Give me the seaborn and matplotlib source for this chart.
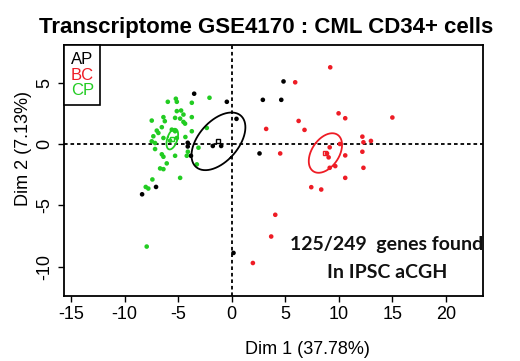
import numpy as np
import pandas as pd
import matplotlib
matplotlib.use("Agg")
import matplotlib.pyplot as plt
from matplotlib.lines import Line2D
import seaborn as sns

# ---------------- data ----------------
groups = ["AP", "BC", "CP"]
group_colors = ["#000000", "#EE1C25", "#22CC22"]

ap_x = [-3.5, -0.45, 0.45, -4.1, -4.1, -3.8, -1.76, -0.98, -7.06, -8.36, 2.6, 4.84, 2.91, 4.63, 0.17]
ap_y = [4.1, 3.44, 2.05, 0.1, -0.2, -0.96, -0.16, -0.16, -3.5, -4.1, -0.77, 5.1, 3.6, 3.6, -8.88]

bc_x = [9.2, 5.93, 9.98, 10.6, 15.0, 6.25, 3.22, 6.8, 12.2, 13.0, 12.3, 10.1, 9.15, 8.9,
        9.05, 4.53, 10.6, 12.2, 9.67, 9.15, 12.3, 10.6, 7.43, 8.36, 4.07, 3.69, 1.98]
bc_y = [6.25, 5.03, 2.5, 2.1, 2.16, 1.88, 1.23, 1.15, 0.6, 0.25, 0.14, 0.0, -0.27, -0.77,
        -1.09, -0.77, -0.93, -0.63, -1.8, -1.94, -1.94, -2.76, -3.52, -3.71, -5.77, -7.54, -9.7]

cp_x = [-5.96, -5.21, -5.12, -3.72, -2.07, -5.12, -4.72, -4.50, -6.37, -6.24,
        -7.46, -5.28, -4.81, -4.50, -4.35, -3.72, -6.52, -6.99, -6.84, -3.72,
        -2.32, -7.31, -6.37, -7.46, -7.15, -5.75, -5.12, -7.15, -6.52, -6.37,
        -5.28, -4.09, -4.19, -3.10, -6.06, -6.68, -6.37, -3.25, -7.40, -4.81,
        -8.02, -7.78, -7.93, -5.59, -5.28, -4.32]
cp_y = [3.44, 3.69, 3.44, 3.36, 3.77, 2.68, 2.73, 2.40, 2.19, 1.86,
        1.91, 2.13, 2.07, 1.80, 1.66, 2.19, 1.37, 1.09, 0.90, 1.04,
        1.31, 0.63, 0.49, 0.22, 0.08, 0.27, 0.49, -0.41, -0.84, -1.04,
        -0.96, -0.63, -0.96, -0.30, -1.58, -1.99, -2.05, -1.66, -2.89, -2.76,
        -3.50, -3.63, -8.36, 1.17, 1.04, 0.57]

x_ticks = [-15, -10, -5, 0, 5, 10, 15, 20]
y_ticks = [-10, -5, 0, 5]

title = "Transcriptome GSE4170 : CML CD34+ cells"
xlabel = "Dim 1 (37.78%)"
ylabel = "Dim 2 (7.13%)"
note_lines = ["125/249  genes found", "In IPSC aCGH"]

df = pd.DataFrame({
    "x": ap_x + bc_x + cp_x,
    "y": ap_y + bc_y + cp_y,
    "group": ["AP"] * len(ap_x) + ["BC"] * len(bc_x) + ["CP"] * len(cp_x),
})

# ---------------- style ----------------
sns.set_style("ticks")
plt.rcParams["font.family"] = ["Liberation Sans", "DejaVu Sans"]
plt.rcParams["text.color"] = "black"
plt.rcParams["axes.labelcolor"] = "black"
plt.rcParams["xtick.color"] = "black"
plt.rcParams["ytick.color"] = "black"

fig = plt.figure(figsize=(5.2, 3.61), dpi=100)
ax = fig.add_axes([64 / 520, 1 - 296 / 361, 419 / 520, 251 / 361])

palette = dict(zip(groups, group_colors))
sns.scatterplot(data=df, x="x", y="y", hue="group", palette=palette,
                hue_order=groups, s=11, linewidth=0, legend=False, ax=ax, zorder=3)

# confidence ellipses around barycentres (95 %)
t_scale = np.sqrt(5.991)
theta = np.linspace(0, 2 * np.pi, 200)
for g, col in zip(groups, group_colors):
    sub = df[df["group"] == g]
    xs, ys = sub["x"].to_numpy(), sub["y"].to_numpy()
    mx, my = xs.mean(), ys.mean()
    cov = np.cov(xs, ys) / len(xs)
    vals, vecs = np.linalg.eigh(cov)
    circ = np.vstack([np.cos(theta), np.sin(theta)])
    pts = vecs @ (np.sqrt(vals)[:, None] * circ) * t_scale
    ax.plot(pts[0] + mx, pts[1] + my, color=col, lw=1.3, zorder=4)
    ax.plot([mx], [my], marker="s", ms=3.5, mfc="none", mec=col, mew=1.0, zorder=5)

ax.axvline(0, color="black", lw=1.3, ls=(0, (2, 1.6)), zorder=1)
ax.axhline(0, color="black", lw=1.3, ls=(0, (2, 1.6)), zorder=1)

ax.set_xlim(-15.65, 23.46)
ax.set_ylim(-12.39, 8.07)
ax.set_xticks(x_ticks)
ax.set_yticks(y_ticks)
ax.set_xticklabels([str(v) for v in x_ticks], fontsize=13)
ax.set_yticklabels([str(v) for v in y_ticks], fontsize=13, rotation=90, va="center")
ax.tick_params(axis="both", direction="out", length=4.5, width=1, color="black",
               labelcolor="black", pad=3)
ax.set_xlabel("")
ax.set_ylabel("")
for sp in ax.spines.values():
    sp.set_visible(True)
    sp.set_linewidth(1.3)
    sp.set_color("black")

# legend
handles = [Line2D([], [], linestyle="none") for _ in groups]
leg = ax.legend(handles, groups, loc="upper left", bbox_to_anchor=(0, 1),
                borderaxespad=0, handlelength=0, handletextpad=0,
                labelcolor=group_colors, fontsize=12, frameon=True,
                fancybox=False, edgecolor="black", labelspacing=0.05,
                borderpad=0.4)
leg.get_frame().set_linewidth(1.2)
leg.get_frame().set_facecolor("white")
leg.get_frame().set_alpha(1)

# note
ax.text(0.771, 0.205, note_lines[0], transform=ax.transAxes, ha="center", va="center",
        fontsize=14, fontweight="bold", family=["Lato", "DejaVu Sans"], color="#111111")
ax.text(0.771, 0.095, note_lines[1], transform=ax.transAxes, ha="center", va="center",
        fontsize=14, fontweight="bold", family=["Lato", "DejaVu Sans"], color="#111111")

fig.text(266 / 520, 1 - 28 / 361, title, ha="center", va="center",
         fontsize=16, fontweight="bold", color="black")
fig.text(307 / 520, 1 - 350 / 361, xlabel, ha="center", va="center", fontsize=13)
fig.text(24 / 520, 1 - 148 / 361, ylabel, ha="center", va="center", fontsize=13,
         rotation=90)

fig.savefig("out.png", dpi=100)
